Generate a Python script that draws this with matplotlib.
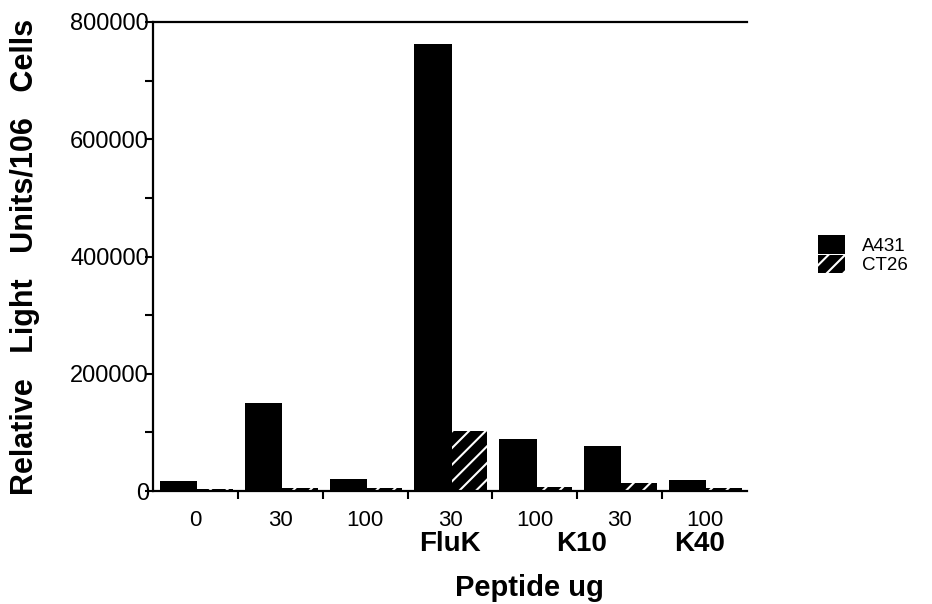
import matplotlib
matplotlib.use("Agg")
import matplotlib.pyplot as plt
import numpy as np

# ---- data ----
dose_labels = ["0", "30", "100", "30", "100", "30", "100"]
peptide_labels = ["FluK", "K10", "K40"]
peptide_label_pos = [3.5, 5.05, 6.44]
series_names = ["A431", "CT26"]
a431 = [17000, 150000, 20000, 763000, 89000, 77000, 19000]
ct26 = [3000, 5000, 5000, 102000, 7000, 13000, 5000]
y_major = [0, 200000, 400000, 600000, 800000]
y_minor = [100000, 300000, 500000, 700000]

plt.rcParams['font.family'] = ['Liberation Sans', 'DejaVu Sans']
plt.rcParams['hatch.linewidth'] = 1.5

W, H = 932, 604
fig = plt.figure(figsize=(W / 100, H / 100), dpi=100)
ax = fig.add_axes([153 / W, 1 - 491 / H, (747 - 153) / W, (491 - 22) / H])

n = len(a431)
idx = np.arange(n)
ax.bar(idx + 0.30, a431, width=0.44, color="black", linewidth=0, label=series_names[0])
ax.bar(idx + 0.73, ct26, width=0.42, color="black", edgecolor="white", hatch="//",
       linewidth=0, label=series_names[1])

ax.set_xlim(0, n)
ax.set_ylim(0, 800000)

ax.spines["right"].set_visible(False)
for s in ["left", "top", "bottom"]:
    ax.spines[s].set_linewidth(1.6)

ax.set_yticks(y_major)
ax.set_yticklabels([str(v) for v in y_major], fontsize=17)
ax.set_yticks(y_minor, minor=True)
ax.tick_params(axis="y", which="major", direction="out", length=6, width=1.5, pad=-3)
ax.tick_params(axis="y", which="minor", direction="out", length=6, width=1.5)

ax.set_xticks(idx + 0.5)
ax.set_xticklabels(dose_labels, fontsize=16)
ax.set_xticks(np.arange(1, n), minor=True)
ax.tick_params(axis="x", which="major", length=0, pad=14)
ax.tick_params(axis="x", which="minor", direction="out", length=6, width=1.5)

for lab, xp in zip(peptide_labels, peptide_label_pos):
    ax.text(xp, -0.113, lab, transform=ax.get_xaxis_transform(), ha="center",
            va="center", fontsize=20, fontweight="bold")

ax.set_xlabel("Peptide ug", fontsize=21, fontweight="bold")
ax.xaxis.set_label_coords(0.633, -0.176)
ax.set_ylabel("Relative   Light   Units/106   Cells", fontsize=22, fontweight="bold")
ax.yaxis.set_label_coords(-0.19, 0.5)

leg = ax.legend(loc="upper left", bbox_to_anchor=(818 / W, 1 - 235 / H),
                bbox_transform=fig.transFigure, frameon=False, fontsize=13.5,
                handlelength=1.45, handleheight=1.15, labelspacing=0,
                handletextpad=0.9, borderpad=0, borderaxespad=0)

fig.savefig("out.png", dpi=100)
